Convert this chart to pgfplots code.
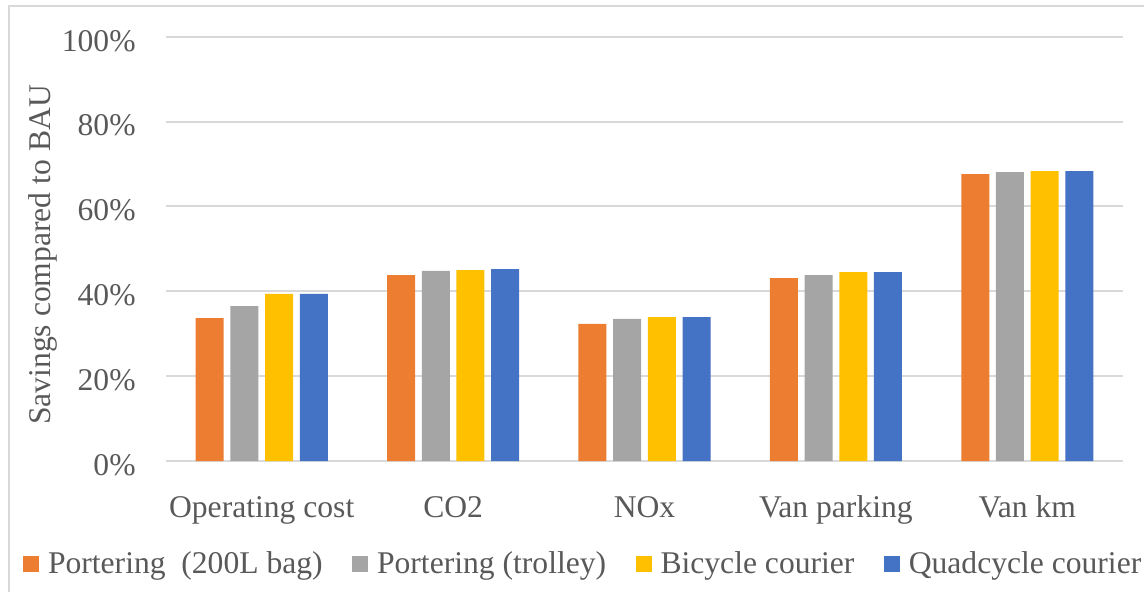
\documentclass[border=0pt]{standalone}
\usepackage{fontspec}
\setmainfont{Liberation Serif}
\usepackage{pgfplots}
\pgfplotsset{compat=1.18}
\definecolor{cOr}{HTML}{ED7D31}
\definecolor{cGr}{HTML}{A5A5A5}
\definecolor{cYe}{HTML}{FFC000}
\definecolor{cBl}{HTML}{4472C4}
\definecolor{cGrid}{HTML}{D9D9D9}
\definecolor{cText}{HTML}{595959}
\newcommand{\chartfont}{\fontsize{15.8}{19}\selectfont}
\begin{document}
\begin{tikzpicture}
\path[use as bounding box] (0,0) rectangle (572pt,295.5pt);
\draw[color=cGrid, line width=1pt] (4.5pt,-5pt) -- (4.5pt,292.5pt) -- (580pt,292.5pt);
\begin{axis}[
  at={(83pt,65pt)}, anchor=south west,
  width=478.5pt, height=212.15pt, scale only axis,
  ybar=3.35pt, bar width=14pt,
  xmin=-0.5, xmax=4.5, ymin=0, ymax=100,
  xtick={0,1,2,3,4},
  xticklabels={Operating cost, CO2, NOx, Van parking, Van km},
  ytick={0,20,40,60,80,100},
  yticklabel={\pgfmathprintnumber{\tick}\%},
  /pgf/number format/assume math mode=true,
  major tick length=0pt,
  axis line style={draw=none},
  ymajorgrids,
  grid style={color=cGrid, line width=1pt},
  tick label style={font=\chartfont, text=cText},
  xticklabel style={anchor=base, yshift=-28pt, inner sep=0pt},
  yticklabel style={anchor=base east, xshift=-15pt, yshift=-7.2pt, inner sep=0pt},
  ylabel={Savings compared to BAU},
  ylabel style={at={(axis description cs:-0.1212,0.4855)}, anchor=base, font=\chartfont, text=cText, inner sep=0pt},
  legend columns=4,
  legend style={at={(axis description cs:-0.1494,-0.2428)}, anchor=west, draw=none, inner sep=0pt, outer sep=0pt,
    font=\chartfont, text=cText,
    /tikz/every odd column/.append style={column sep=2.5pt},
    /tikz/every even column/.append style={column sep=12.7pt},
    cells={inner sep=0pt}},
  legend image code/.code={\fill[#1] (0pt,-4pt) rectangle (8pt,4pt);},
]
\addplot[fill=cOr, draw=none] coordinates {(0,33.7) (1,43.8) (2,32.3) (3,43.1) (4,67.6)};
\addlegendentry{Portering~~(200L bag)}
\addplot[fill=cGr, draw=none] coordinates {(0,36.5) (1,44.8) (2,33.5) (3,43.8) (4,68.1)};
\addlegendentry{Portering (trolley)}
\addplot[fill=cYe, draw=none] coordinates {(0,39.4) (1,45.0) (2,33.9) (3,44.5) (4,68.3)};
\addlegendentry{Bicycle courier}
\addplot[fill=cBl, draw=none] coordinates {(0,39.4) (1,45.2) (2,33.9) (3,44.5) (4,68.3)};
\addlegendentry{Quadcycle courier}
\end{axis}
\end{tikzpicture}
\end{document}
